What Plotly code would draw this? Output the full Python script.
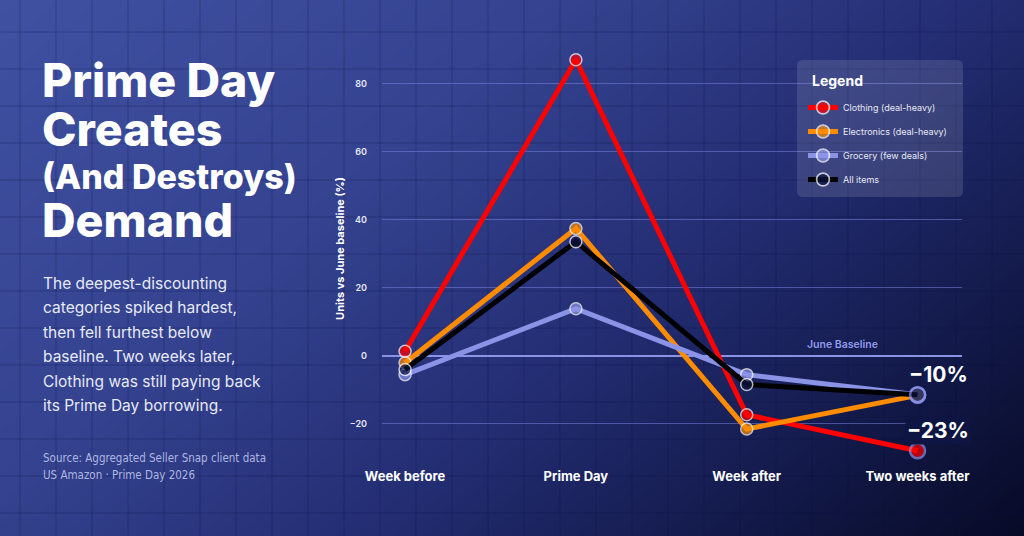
import numpy as np
import plotly.graph_objects as go

# --- data ---
periods = ["Week before", "Prime Day", "Week after", "Two weeks after"]
clothing = [1.3, 87.0, -17.4, -28.0]
electronics = [-2.1, 37.4, -21.6, -11.7]
grocery = [-5.6, 13.8, -5.6, -11.5]
all_items = [-4.1, 33.5, -8.5, -11.5]

series = [
    ("Clothing (deal-heavy)", clothing, "#ff0000", "#ff0000"),
    ("Electronics (deal-heavy)", electronics, "#ff8c00", "#ff8c00"),
    ("Grocery (few deals)", grocery, "#8a93e6", "#8a93e6"),
    ("All items", all_items, "#000000", "#0d1440"),
]

y_ticks = [-20, 0, 20, 40, 60, 80]
callouts = [("−10%", -11.5), ("−23%", -28.0)]

W, H = 1024, 536
HIGHLIGHT = "#8a93e6"

fig = go.Figure()

# --- background: diagonal blue gradient + faint square grid ---
gx = np.linspace(-40, W + 40, 50)
gy = np.linspace(-40, H + 40, 28)
XX, YY = np.meshgrid(gx, gy)
shade = 0.62 * XX / W + 0.38 * YY / H
fig.add_trace(go.Heatmap(
    x=gx, y=gy, z=shade, zsmooth="best", showscale=False, hoverinfo="skip",
    colorscale=[[0, "#4051a2"], [0.35, "#34428f"], [0.6, "#232d72"],
                [0.8, "#141b4d"], [1, "#070a26"]],
    zmin=0, zmax=1, xaxis="x", yaxis="y",
))
grid_x, grid_y = [], []
for gxv in np.arange(20, W, 36):
    grid_x += [gxv, gxv, None]
    grid_y += [0, H, None]
for gyv in np.arange(32, H, 37):
    grid_x += [0, W, None]
    grid_y += [gyv, gyv, None]
fig.add_trace(go.Scatter(
    x=grid_x, y=grid_y, mode="lines", hoverinfo="skip", showlegend=False,
    line=dict(color="rgba(10,18,70,0.28)", width=1), xaxis="x", yaxis="y",
))

# --- the four series ---
last = len(periods) - 1
for name, vals, color, fill in series:
    sizes = [12] * len(vals)
    sizes[last] = 15
    edge = ["white"] * len(vals)
    edge[last] = HIGHLIGHT
    widths = [1.5] * len(vals)
    widths[last] = 2.5
    fig.add_trace(go.Scatter(
        x=periods, y=vals, name=name, legendgroup=name,
        mode="lines+markers",
        line=dict(color=color, width=5),
        marker=dict(color=fill, size=sizes, line=dict(color=edge, width=widths)),
        xaxis="x2", yaxis="y2",
    ))

annotations = []

# title block on the left (middle line is set smaller, as in the original)
title_lines = [("Prime Day", 46.5, 80), ("Creates", 46.5, 129),
               ("(And Destroys)", 34, 176), ("Demand", 46.5, 220)]
for line, size, ymid in title_lines:
    annotations.append(dict(
        text=line, xref="paper", yref="paper", x=40 / W, y=1 - ymid / H,
        xanchor="left", yanchor="middle", showarrow=False,
        font=dict(family="Inter", size=size, color="white", weight=800),
    ))

body_lines = ["The deepest-discounting", "categories spiked hardest,",
              "then fell furthest below", "baseline. Two weeks later,",
              "Clothing was still paying back", "its Prime Day borrowing."]
for i, line in enumerate(body_lines):
    annotations.append(dict(
        text=line, xref="paper", yref="paper", x=41 / W, y=1 - (283 + 24.5 * i) / H,
        xanchor="left", yanchor="middle", showarrow=False,
        font=dict(family="Inter", size=15.5, color="#e6e9f7"),
    ))

source_lines = ["Source: Aggregated Seller Snap client data", "US Amazon · Prime Day 2026"]
for i, line in enumerate(source_lines):
    annotations.append(dict(
        text=line, xref="paper", yref="paper", x=41 / W, y=1 - (458 + 17 * i) / H,
        xanchor="left", yanchor="middle", showarrow=False,
        font=dict(family="DejaVu Sans Condensed, Liberation Sans Narrow, sans-serif",
                  size=11.5, color="#aeb6e2"),
    ))

# legend heading
annotations.append(dict(
    text="Legend", xref="paper", yref="paper", x=810 / W, y=1 - 80 / H,
    xanchor="left", yanchor="middle", showarrow=False,
    font=dict(family="Inter", size=14, color="white", weight=700),
))

# baseline label and end-of-line callouts
annotations.append(dict(
    text="June Baseline", x=2.56, y=0, xref="x2", yref="y2",
    xanchor="center", yanchor="bottom", yshift=3, showarrow=False,
    font=dict(family="Inter", size=10.5, color="#8f99ec", weight=600),
))
for label, yv in callouts:
    annotations.append(dict(
        text=label, x=3.12, y=yv, xref="x2", yref="y2",
        xanchor="center", yanchor="bottom", yshift=6,
        showarrow=False, bgcolor="#0f1543" if yv < -20 else None,
        font=dict(family="Inter", size=21, color="white", weight=700),
    ))

fig.update_layout(
    width=W, height=H,
    margin=dict(l=0, r=0, t=0, b=0, autoexpand=False),
    paper_bgcolor="#1b2462",
    plot_bgcolor="rgba(0,0,0,0)",
    xaxis=dict(domain=[0, 1], range=[0, W], visible=False, fixedrange=True,
               automargin=False),
    yaxis=dict(domain=[0, 1], range=[H, 0], visible=False, fixedrange=True,
               automargin=False),
    xaxis2=dict(
        domain=[382 / W, 962 / W], anchor="y2", type="category", automargin=False,
        range=[-0.135, 3.26], showgrid=False, showline=False, zeroline=False,
        ticks="", ticklabelstandoff=6,
        tickfont=dict(family="Inter", size=13, color="white", weight=700),
    ),
    yaxis2=dict(
        domain=[1 - 461 / H, 1 - 36 / H], anchor="x2", automargin=False,
        range=[-31, 94], tickvals=y_ticks, ticks="",
        showgrid=True, gridcolor="rgba(125,135,230,0.5)", gridwidth=1,
        zeroline=True, zerolinecolor="#8a93e6", zerolinewidth=1.5,
        showline=False, ticklabelstandoff=14,
        tickfont=dict(family="Inter", size=9, color="#e4e7f6", weight=600),
        title=dict(text="Units vs June baseline (%)", standoff=2,
                   font=dict(family="Inter", size=11, color="white", weight=700)),
    ),
    legend=dict(
        x=803 / W, y=1 - 93 / H, xanchor="left", yanchor="top",
        bgcolor="rgba(0,0,0,0)", itemwidth=30, tracegroupgap=5,
        font=dict(family="Inter", size=9, color="#e6e8f5"),
    ),
    shapes=[dict(
        type="path", xref="paper", yref="paper", layer="above",
        path=("M {l},{t} L {r},{t} Q {R},{t} {R},{T} L {R},{B} Q {R},{b} {r},{b} "
              "L {l},{b} Q {L},{b} {L},{B} L {L},{T} Q {L},{t} {l},{t} Z").format(
            L=797 / W, l=803 / W, R=963 / W, r=957 / W,
            t=1 - 60 / H, T=1 - 66 / H, b=1 - 197 / H, B=1 - 191 / H),
        fillcolor="rgba(255,255,255,0.12)", line=dict(width=0),
    )],
    annotations=annotations,
    showlegend=True,
)

fig.write_html("out.html", config={"displayModeBar": False},
               post_script="document.body.style.margin = '0';")
